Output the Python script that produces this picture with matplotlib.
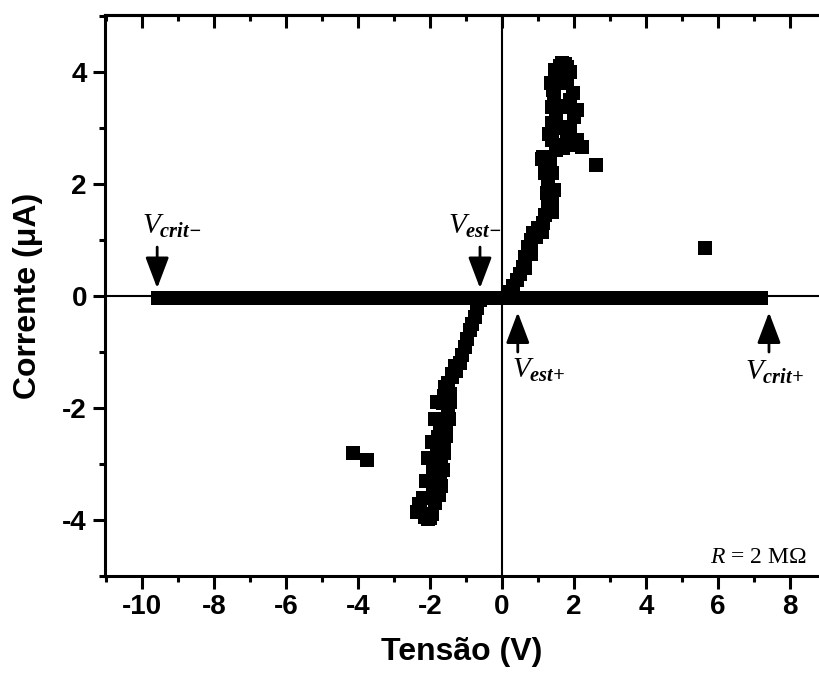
import matplotlib
matplotlib.use("Agg")
import matplotlib.pyplot as plt
from matplotlib.ticker import MultipleLocator

plt.rcParams['font.family'] = ['Liberation Sans', 'DejaVu Sans']
plt.rcParams['axes.unicode_minus'] = False
plt.rcParams['mathtext.fontset'] = 'custom'
plt.rcParams['mathtext.rm'] = 'Liberation Serif'
plt.rcParams['mathtext.it'] = 'Liberation Serif:italic'
plt.rcParams['mathtext.bf'] = 'Liberation Serif:italic:bold'

# sweep points sitting on I = 0 (high resistance state)
band_v = [-9.55, -9.25, -8.95, -8.65, -8.35, -8.05, -7.75, -7.45, -7.15, -6.85,
          -6.55, -6.25, -5.95, -5.65, -5.35, -5.05, -4.75, -4.45, -4.15, -3.85,
          -3.55, -3.25, -2.95, -2.65, -2.35, -2.05, -1.75, -1.45, -1.15, -0.85,
          -0.55, -0.25, 0.05, 0.35, 0.65, 0.95, 1.25, 1.55, 1.85, 2.15,
          2.45, 2.75, 3.05, 3.35, 3.65, 3.95, 4.25, 4.55, 4.85, 5.15,
          5.45, 5.75, 6.05, 6.35, 6.65, 6.95, 7.2]
band_i = [-0.03] * len(band_v)

# negative branch
neg_v = [-0.61, -0.68, -0.75, -0.82, -0.89, -0.96, -1.03, -1.10, -1.17, -1.28,
         -1.39, -1.50, -1.58, -1.62, -1.64, -1.67, -1.72, -1.78, -1.81, -1.86,
         -1.92, -1.92, -1.88, -1.86, -1.45, -1.50, -1.55, -1.62, -1.68, -1.72,
         -1.75, -2.30, -2.35, -2.15, -2.05, -1.95, -2.28, -2.08, -2.00,
         -1.30, -1.40, -1.45, -1.48, -1.55, -1.60, -1.65, -1.70, -2.00, -2.20,
         -2.10, -2.05, -1.95, -1.85, -1.80]
neg_i = [-0.07, -0.22, -0.37, -0.50, -0.61, -0.76, -0.91, -1.05, -1.20, -1.33,
         -1.45, -1.55, -1.63, -1.78, -1.91, -2.21, -2.36, -2.52, -2.80, -2.95,
         -3.10, -3.41, -3.55, -3.70, -1.75, -2.05, -2.35, -2.65, -2.95, -3.25,
         -3.55, -3.72, -3.85, -3.95, -3.98, -3.90, -3.79, -3.91, -3.96,
         -1.25, -1.40, -1.90, -2.20, -2.50, -2.80, -3.10, -3.40, -3.60, -3.60,
         -3.30, -2.90, -2.60, -2.20, -1.90]

# positive branch
pos_v = [0.17, 0.30, 0.42, 0.50, 0.58, 0.65, 0.72, 0.80, 0.86, 1.00,
         1.14, 1.20, 1.28, 1.38, 1.25, 1.28, 1.20, 1.14, 1.33, 1.25,
         1.39, 1.50, 1.39, 1.30, 1.39, 1.50, 1.42, 1.55, 1.47, 1.60,
         1.67, 1.75, 1.80, 1.80, 1.70, 1.97, 1.90, 1.80, 2.08, 1.89,
         1.65, 1.80, 2.08, 2.22,
         0.65, 0.80, 0.95, 1.10, 1.40, 1.45, 1.40, 1.10, 1.60, 1.55,
         1.35, 1.45, 1.90, 2.00, 1.95, 1.70]
pos_i = [0.07, 0.18, 0.29, 0.40, 0.52, 0.70, 0.88, 1.00, 1.13, 1.22,
         1.30, 1.45, 1.59, 1.70, 1.84, 2.07, 2.20, 2.48, 2.43, 2.30,
         2.79, 2.60, 3.09, 2.90, 3.38, 3.20, 3.68, 3.80, 4.04, 4.10,
         4.16, 4.15, 4.09, 3.80, 3.90, 3.63, 3.50, 3.38, 3.32, 3.02,
         3.00, 2.84, 2.79, 2.66,
         0.50, 0.75, 1.05, 1.15, 1.50, 1.90, 2.20, 2.45, 2.70, 3.40,
         3.80, 3.60, 4.00, 3.20, 2.70, 2.65]

# isolated points
out_v = [-4.14, -3.75, 2.61, 5.64]
out_i = [-2.80, -2.93, 2.34, 0.86]

fig = plt.figure(figsize=(8.19, 6.81), dpi=100)
ax = fig.add_axes([0.1282, 0.1542, 0.8718, 0.8238])

ax.axhline(0, color='black', lw=1.5, zorder=1)
ax.axvline(0, color='black', lw=1.5, zorder=1)

for v, i in [(band_v, band_i), (neg_v, neg_i), (pos_v, pos_i), (out_v, out_i)]:
    ax.plot(v, i, 's', color='black', markersize=10, markeredgewidth=0, zorder=3)

ax.set_xlim(-11.03, 8.81)
ax.set_ylim(-5.0, 5.02)

ax.spines['right'].set_visible(False)
for s in ['left', 'top', 'bottom']:
    ax.spines[s].set_linewidth(2.2)

ax.xaxis.set_major_locator(MultipleLocator(2))
ax.xaxis.set_minor_locator(MultipleLocator(1))
ax.yaxis.set_major_locator(MultipleLocator(2))
ax.yaxis.set_minor_locator(MultipleLocator(1))
ax.tick_params(which='major', direction='out', length=9, width=2.2, pad=4,
               labelsize=20)
ax.tick_params(which='minor', direction='out', length=4.5, width=2.2)
ax.tick_params(axis='y', which='both', right=False)
for lab in ax.get_xticklabels() + ax.get_yticklabels():
    lab.set_fontweight('bold')

top = ax.secondary_xaxis('top')
top.xaxis.set_major_locator(MultipleLocator(2))
top.xaxis.set_minor_locator(MultipleLocator(1))
top.tick_params(which='major', direction='in', length=9, width=2.2, labeltop=False)
top.tick_params(which='minor', direction='in', length=4.5, width=2.2)
top.spines['top'].set_linewidth(2.2)

ax.set_xlabel('Tensão (V)', fontsize=23, fontweight='bold', labelpad=12)
ax.set_ylabel('Corrente (μA)', fontsize=23, fontweight='bold', labelpad=14)

arrow = dict(arrowstyle='-|>,head_length=0.95,head_width=0.36', color='black',
             lw=2, mutation_scale=20, shrinkA=0, shrinkB=0)
ax.annotate('', xy=(-9.58, 0.14), xytext=(-9.58, 0.875), arrowprops=arrow)
ax.annotate('', xy=(-0.61, 0.14), xytext=(-0.61, 0.875), arrowprops=arrow)
ax.annotate('', xy=(0.44, -0.29), xytext=(0.44, -1.0), arrowprops=arrow)
ax.annotate('', xy=(7.42, -0.29), xytext=(7.42, -1.0), arrowprops=arrow)

ax.text(-10.0, 1.12, r'$V_{\mathbf{crit{-}}}$', fontsize=21, va='baseline')
ax.text(-1.5, 1.12, r'$V_{\mathbf{est{-}}}$', fontsize=21, va='baseline')
ax.text(0.28, -1.46, r'$V_{\mathbf{est{+}}}$', fontsize=21, va='baseline')
ax.text(6.75, -1.5, r'$V_{\mathbf{crit{+}}}$', fontsize=21, va='baseline')

ax.text(8.47, -4.77, r'$R$ = 2 MΩ', fontsize=17, ha='right', va='baseline',
        family='Liberation Serif')

fig.savefig('out.png', dpi=100)
